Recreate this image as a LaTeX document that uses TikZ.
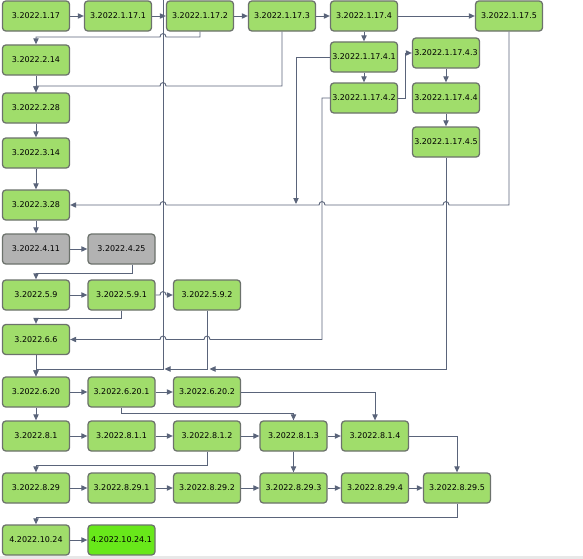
\documentclass[tikz,border=0pt]{standalone}
\usepackage{fontspec}
\setmainfont{DejaVu Sans}
\usepackage{tikz}
\usetikzlibrary{positioning,arrows.meta,calc}
\usepackage{xcolor}

\definecolor{boxgreen}{RGB}{160,221,107}
\definecolor{boxgrey}{RGB}{178,178,178}
\definecolor{boxlime}{RGB}{104,232,26}
\definecolor{boxedge}{RGB}{108,114,108}
\definecolor{wire}{RGB}{90,100,122}

% small hop where a horizontal wire crosses a vertical one
\newcommand{\hopleft}[2]{-- ({#1+3},#2) .. controls ({#1+3},{#2-4.5}) and ({#1-3},{#2-4.5}) .. ({#1-3},#2)}
\newcommand{\hopright}[2]{-- ({#1-3},#2) .. controls ({#1-3},{#2-4.5}) and ({#1+3},{#2-4.5}) .. ({#1+3},#2)}

\begin{document}
\begin{tikzpicture}[
    x=0.03cm, y=-0.03cm,
    box/.style={draw=boxedge, line width=1.1pt, rounded corners=1mm, fill=boxgreen,
        minimum width=2.01cm, minimum height=0.9cm, inner sep=0pt,
        font=\fontsize{6.8}{8}\selectfont},
    oldbox/.style={box, fill=boxgrey},
    newbox/.style={box, fill=boxlime},
    arr/.style={-{Triangle[length=1.8mm,width=1.6mm]}, draw=wire, fill=none, line width=0.8pt}
]
\useasboundingbox (0,0) rectangle (583,559);
\fill[gray!18] (0,556) rectangle (583,559);

% row of 1.17
\node[box] (n11717) at (36,16) {3.2022.1.17};
\node[box] (n117171) at (118,16) {3.2022.1.17.1};
\node[box] (n117172) at (200,16) {3.2022.1.17.2};
\node[box] (n117173) at (282,16) {3.2022.1.17.3};
\node[box] (n117174) at (364,16) {3.2022.1.17.4};
\node[box] (n117175) at (509,16) {3.2022.1.17.5};

\node[box] (n1174a) at (364,57) {3.2022.1.17.4.1};
\node[box] (n1174b) at (364,98) {3.2022.1.17.4.2};
\node[box] (n1174c) at (446,53) {3.2022.1.17.4.3};
\node[box] (n1174d) at (446,98) {3.2022.1.17.4.4};
\node[box] (n1174e) at (446,142) {3.2022.1.17.4.5};

% left column
\node[box] (n2214) at (36,60) {3.2022.2.14};
\node[box] (n2228) at (36,108) {3.2022.2.28};
\node[box] (n3314) at (36,153) {3.2022.3.14};
\node[box] (n3328) at (36,205) {3.2022.3.28};
\node[oldbox] (n411) at (36,249) {3.2022.4.11};
\node[oldbox] (n425) at (121.5,249) {3.2022.4.25};
\node[box] (n59) at (36,295) {3.2022.5.9};
\node[box] (n591) at (121.5,295) {3.2022.5.9.1};
\node[box] (n592) at (207,295) {3.2022.5.9.2};
\node[box] (n66) at (36,339.5) {3.2022.6.6};
\node[box] (n620) at (36,392) {3.2022.6.20};
\node[box] (n6201) at (121.5,392) {3.2022.6.20.1};
\node[box] (n6202) at (207,392) {3.2022.6.20.2};

% august rows
\node[box] (n81) at (36,436) {3.2022.8.1};
\node[box] (n811) at (121.5,436) {3.2022.8.1.1};
\node[box] (n812) at (207,436) {3.2022.8.1.2};
\node[box] (n813) at (293.5,436) {3.2022.8.1.3};
\node[box] (n814) at (375,436) {3.2022.8.1.4};
\node[box] (n829) at (36,488) {3.2022.8.29};
\node[box] (n8291) at (121.5,488) {3.2022.8.29.1};
\node[box] (n8292) at (207,488) {3.2022.8.29.2};
\node[box] (n8293) at (293.5,488) {3.2022.8.29.3};
\node[box] (n8294) at (375,488) {3.2022.8.29.4};
\node[box] (n8295) at (457,488) {3.2022.8.29.5};
\node[box] (n1024) at (36,540) {4.2022.10.24};
\node[newbox] (n10241) at (121.5,540) {4.2022.10.24.1};

% free ends
\coordinate (topin) at (163,0);
\coordinate (drop41) at (296,204);
\coordinate (mergeA) at (209.5,369);
\coordinate (mergeB) at (164.5,369);

\draw[arr] (n11717) -- (n117171);
\draw[arr] (n117171) -- (n117172);
\draw[arr] (n117172) -- (n117173);
\draw[arr] (n117173) -- (n117174);
\draw[arr] (n117174) -- (n117175);
\draw[arr] (n117172.south) -- (200,37) \hopleft{163}{37} -- (36,37) -- (n2214.north);
\draw[arr] (n117173.south) -- (282,86) \hopleft{163}{86} -- (36,86) -- (n2228.north);
\draw[arr] (n2214) -- (n2228);
\draw[arr] (n2228) -- (n3314);
\draw[arr] (n3314) -- (n3328);

\draw[arr] (n117174) -- (n1174a);
\draw[arr] (n1174a) -- (n1174b);
\draw[arr] (n1174b.east) -- (405,98) -- (405,53) -- (n1174c.west);
\draw[arr] (n1174c) -- (n1174d);
\draw[arr] (n1174d) -- (n1174e);
\draw[arr] (n1174a.west) -- (296,57) -- (drop41);
\draw[arr] (n117175.south) -- (509,205) \hopleft{446}{205} \hopleft{322}{205} \hopleft{163}{205} -- (n3328.east);
\draw[arr] (n1174b.west) -- (322,98) -- (322,339.5) \hopleft{207}{339.5} \hopleft{163}{339.5} -- (n66.east);
\draw[arr] (n1174e.south) -- (446,369) -- (mergeA);
\draw[arr] (n592.south) -- (207,369) -- (mergeB);
\draw[arr] (topin) -- (163,369) -- (36,369) -- (n620.north);

\draw[arr] (n3328) -- (n411);
\draw[arr] (n411) -- (n425);
\draw[arr] ($(n425.south)+(11,0)$) -- (132.5,273) -- (36,273) -- (n59.north);
\draw[arr] (n59) -- (n591);
\draw[arr] (n591.east) \hopright{163}{295} -- (n592.west);
\draw[arr] (n591.south) -- (121.5,318) -- (36,318) -- (n66.north);
\draw[arr] (n66) -- (n620);
\draw[arr] (n620) -- (n6201);
\draw[arr] (n6201) -- (n6202);
\draw[arr] (n6202.east) -- (375,392) -- (n814.north);
\draw[arr] (n6201.south) -- (121.5,413) -- (293.5,413) -- (n813.north);

\draw[arr] (n620) -- (n81);
\draw[arr] (n81) -- (n811);
\draw[arr] (n811) -- (n812);
\draw[arr] (n812) -- (n813);
\draw[arr] (n813) -- (n814);
\draw[arr] (n812.south) -- (207,465) -- (36,465) -- (n829.north);
\draw[arr] (n813) -- (n8293);
\draw[arr] (n814.east) -- (457,436) -- (n8295.north);
\draw[arr] (n829) -- (n8291);
\draw[arr] (n8291) -- (n8292);
\draw[arr] (n8292) -- (n8293);
\draw[arr] (n8293) -- (n8294);
\draw[arr] (n8294) -- (n8295);
\draw[arr] (n8295.south) -- (457,517) -- (36,517) -- (n1024.north);
\draw[arr] (n1024) -- (n10241);
\end{tikzpicture}
\end{document}
